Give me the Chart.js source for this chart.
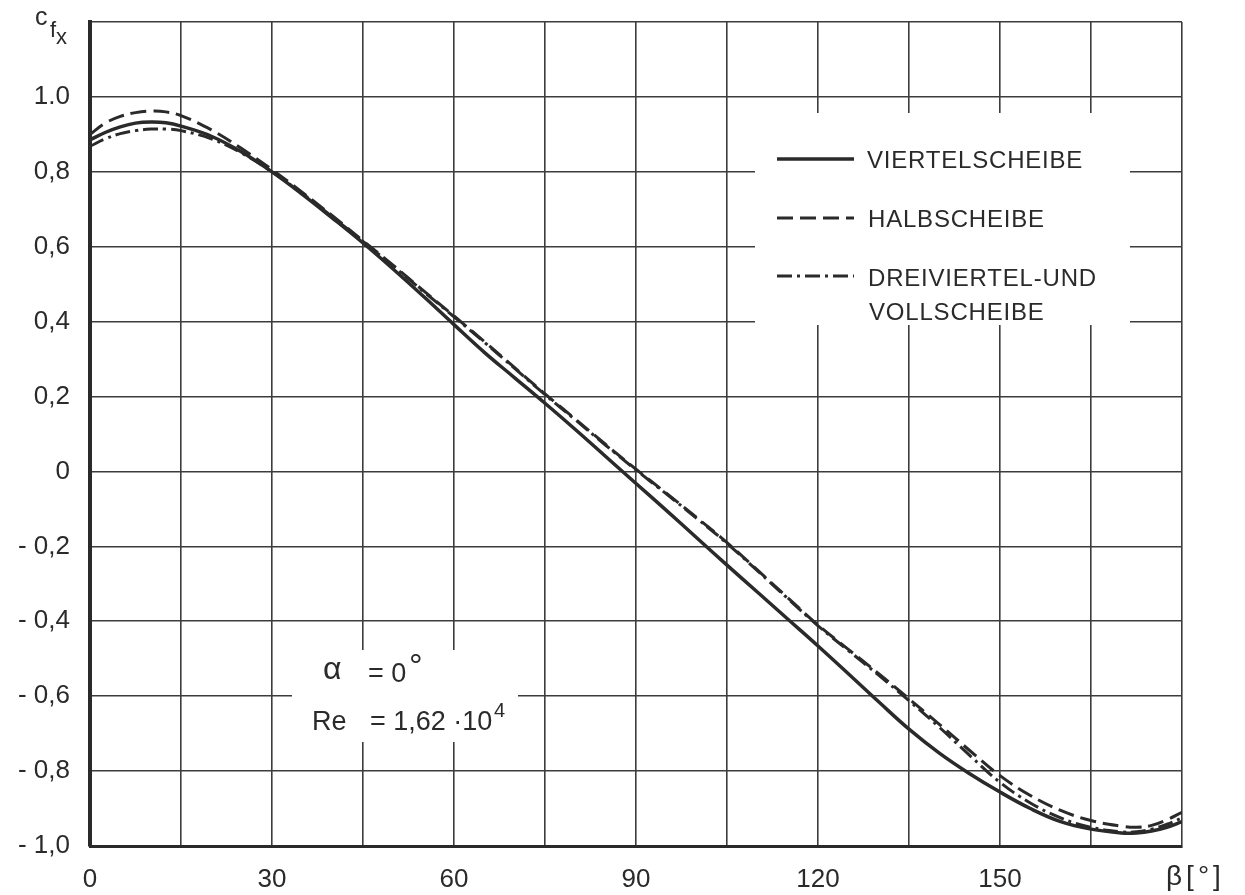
<!DOCTYPE html>
<html>
<head>
<meta charset="utf-8">
<script src="https://cdn.jsdelivr.net/npm/chart.js@4.4.1/dist/chart.umd.min.js"></script>
<style>
  html, body { margin: 0; padding: 0; background: #ffffff; }
  #wrap { width: 1245px; height: 895px; position: relative; }
</style>
</head>
<body>
<div id="wrap"><canvas id="chart" width="1245" height="895"></canvas></div>
<script>
// Anströmwinkel beta in Grad
const betaDeg = [0, 2.5, 5, 7.5, 10, 12.5, 15, 20, 25, 30, 35, 40, 45, 50, 55, 60, 65, 70, 75, 80, 85, 90,
  95, 100, 105, 110, 115, 120, 125, 130, 135, 140, 145, 150, 155, 160, 165, 170, 172.5, 175, 177.5, 180];

// Kraftbeiwert c_fx je Scheibenform
const cfxViertel = [0.885, 0.905, 0.92, 0.93, 0.933, 0.931, 0.922, 0.895, 0.853, 0.80, 0.74, 0.676, 0.61, 0.54, 0.467,
  0.392, 0.318, 0.25, 0.182, 0.112, 0.04, -0.032, -0.104, -0.177, -0.25, -0.322, -0.394, -0.466, -0.54, -0.615,
  -0.688, -0.752, -0.807, -0.856, -0.9, -0.935, -0.955, -0.965, -0.965, -0.96, -0.95, -0.935];
const cfxHalb = [0.90, 0.93, 0.948, 0.958, 0.962, 0.96, 0.95, 0.912, 0.862, 0.806, 0.745, 0.682, 0.616, 0.55, 0.482,
  0.415, 0.347, 0.277, 0.207, 0.14, 0.072, 0.006, -0.058, -0.123, -0.19, -0.263, -0.337, -0.41, -0.475, -0.54,
  -0.607, -0.675, -0.745, -0.812, -0.865, -0.905, -0.932, -0.947, -0.95, -0.945, -0.93, -0.91];
const cfxDreiviertelVoll = [0.868, 0.888, 0.902, 0.91, 0.914, 0.914, 0.91, 0.888, 0.85, 0.80, 0.742, 0.679, 0.614, 0.548, 0.48,
  0.413, 0.345, 0.275, 0.205, 0.138, 0.07, 0.004, -0.06, -0.125, -0.192, -0.265, -0.339, -0.412, -0.478, -0.544,
  -0.612, -0.683, -0.758, -0.83, -0.885, -0.925, -0.95, -0.962, -0.962, -0.955, -0.942, -0.925];

// Achsenteilung
const xTicks = [0, 15, 30, 45, 60, 75, 90, 105, 120, 135, 150, 165, 180];
const xTickLabels = ['0', '', '30', '', '60', '', '90', '', '120', '', '150', '', ''];
const yTicks = [-1.0, -0.8, -0.6, -0.4, -0.2, 0, 0.2, 0.4, 0.6, 0.8, 1.0, 1.2];
const yTickLabels = ['- 1,0', '- 0,8', '- 0,6', '- 0,4', '- 0,2', '0', '0,2', '0,4', '0,6', '0,8', '1.0', ''];

const seriesNames = ['VIERTELSCHEIBE', 'HALBSCHEIBE', 'DREIVIERTEL-UND', 'VOLLSCHEIBE'];

const INK = '#2a2a2a';
const GRID = '#3c3c3c';
const FONT = "'Liberation Sans', Arial, sans-serif";
const DASH = [16, 7];
const DASHDOT = [15, 5, 3, 5];

function pts(ys) { return betaDeg.map((b, i) => ({ x: b, y: ys[i] })); }

// Weisse Felder für Legende und Kenndaten, danach Beschriftung
const overlay = {
  id: 'overlay',
  beforeDatasetsDraw(chart) {
    const ctx = chart.ctx;
    ctx.save();
    ctx.fillStyle = '#ffffff';
    ctx.fillRect(755, 113, 375, 212);
    ctx.fillRect(292, 650, 226, 92);
    ctx.restore();
  },
  afterDraw(chart) {
    const ctx = chart.ctx;
    ctx.save();
    ctx.fillStyle = INK;
    ctx.strokeStyle = INK;
    ctx.textBaseline = 'alphabetic';
    ctx.textAlign = 'left';

    // Legende
    const rows = [
      { y: 159, dash: [], w: 3.5 },
      { y: 218, dash: DASH, w: 3 },
      { y: 276, dash: DASHDOT, w: 3 }
    ];
    rows.forEach(r => {
      ctx.beginPath();
      ctx.setLineDash(r.dash);
      ctx.lineWidth = r.w;
      ctx.moveTo(777, r.y);
      ctx.lineTo(854, r.y);
      ctx.stroke();
    });
    ctx.setLineDash([]);
    ctx.font = '24px ' + FONT;
    ctx.letterSpacing = '0.8px';
    ctx.fillText(seriesNames[0], 867, 168);
    ctx.fillText(seriesNames[1], 868, 227);
    ctx.fillText(seriesNames[2], 868, 286);
    ctx.fillText(seriesNames[3], 869, 320);
    ctx.letterSpacing = '0px';

    // Kenndaten
    ctx.font = '32px ' + FONT;
    ctx.fillText('\u03B1', 323, 679);
    ctx.font = '27px ' + FONT;
    ctx.fillText('= 0', 368, 682);
    ctx.font = '34px ' + FONT;
    ctx.fillText('\u00B0', 409, 677);
    ctx.font = '27px ' + FONT;
    ctx.fillText('Re', 312, 730);
    ctx.fillText('= 1,62 \u00B710', 370, 730);
    ctx.font = '20px ' + FONT;
    ctx.fillText('4', 494, 717);

    // Achsentitel
    ctx.font = '25px ' + FONT;
    ctx.fillText('c', 35, 25);
    ctx.font = '22px ' + FONT;
    ctx.fillText('f', 50, 37);
    ctx.fillText('x', 56, 44);
    ctx.font = '28px ' + FONT;
    ctx.letterSpacing = '4px';
    ctx.fillText('\u03B2[\u00B0]', 1166, 885);
    ctx.letterSpacing = '0px';
    ctx.restore();
  }
};

new Chart(document.getElementById('chart'), {
  type: 'line',
  data: {
    datasets: [
      { label: seriesNames[0], data: pts(cfxViertel), borderColor: INK, borderWidth: 3.5, borderDash: [], pointRadius: 0, tension: 0.4, fill: false },
      { label: seriesNames[1], data: pts(cfxHalb), borderColor: INK, borderWidth: 3, borderDash: DASH, pointRadius: 0, tension: 0.4, fill: false },
      { label: seriesNames[2] + ' ' + seriesNames[3], data: pts(cfxDreiviertelVoll), borderColor: INK, borderWidth: 3, borderDash: DASHDOT, pointRadius: 0, tension: 0.4, fill: false }
    ]
  },
  options: {
    responsive: false,
    animation: false,
    devicePixelRatio: 1,
    layout: { padding: { left: 0, top: 22, right: 63, bottom: 0 } },
    plugins: { legend: { display: false }, tooltip: { enabled: false } },
    scales: {
      x: {
        type: 'linear', min: 0, max: 180,
        afterBuildTicks(s) { s.ticks = xTicks.map(v => ({ value: v })); },
        afterFit(s) { s.height = 49; s.paddingLeft = 0; s.paddingRight = 0; },
        grid: { color: GRID, lineWidth: 1.6, drawTicks: false },
        border: { display: true, color: INK, width: 3 },
        ticks: {
          color: INK, font: { family: FONT, size: 26 }, padding: 18, maxRotation: 0, autoSkip: false,
          callback: (v, i) => xTickLabels[i]
        }
      },
      y: {
        type: 'linear', min: -1.0, max: 1.2,
        afterBuildTicks(s) { s.ticks = yTicks.map(v => ({ value: v })); },
        afterFit(s) { s.width = 90; s.paddingTop = 0; s.paddingBottom = 0; },
        grid: { color: GRID, lineWidth: 1.6, drawTicks: false },
        border: { display: true, color: INK, width: 4 },
        ticks: {
          color: INK, font: { family: FONT, size: 26 }, padding: 20, autoSkip: false,
          callback: (v, i) => yTickLabels[i]
        }
      }
    }
  },
  plugins: [overlay]
});
</script>
</body>
</html>
